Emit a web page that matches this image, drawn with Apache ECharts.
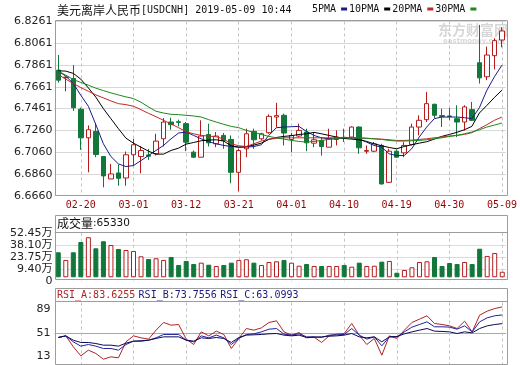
<!DOCTYPE html>
<html><head><meta charset="utf-8">
<script src="https://cdn.jsdelivr.net/npm/echarts@6/dist/echarts.min.js"></script>
<style>html,body{margin:0;padding:0;background:#fff}#c{width:520px;height:365px}</style>
</head><body><div id="c"></div>
<script>
const dates = ['02-15','02-18','02-19','02-20','02-21','02-22','02-25','02-26','02-27','02-28',
'03-01','03-04','03-05','03-06','03-07','03-08','03-11','03-12','03-13','03-14','03-15','03-18','03-19','03-20','03-21','03-22','03-25','03-26','03-27','03-28','03-29',
'04-01','04-02','04-03','04-04','04-05','04-08','04-09','04-10','04-11','04-12','04-15','04-16','04-17','04-18','04-19','04-22','04-23','04-24','04-25','04-26','04-29','04-30',
'05-01','05-02','05-03','05-06','05-07','05-08','05-09'];
const xLabelDates = ['02-20','03-01','03-12','03-21','04-01','04-10','04-19','04-30','05-09'];

const open  = [6.7814,6.7745,6.7737,6.7454,6.7192,6.7251,6.7020,6.6814,6.6869,6.6823,6.7036,6.7020,6.7035,6.7045,6.7183,6.7337,6.7340,6.7322,6.7060,6.7014,6.7223,6.7137,6.7214,6.7177,6.6875,6.7091,6.7251,6.7183,6.7239,6.7383,6.7399,6.7177,6.7208,6.7245,6.7143,6.7168,6.7106,6.7177,6.7196,6.7199,6.7291,6.7068,6.7069,6.7122,6.6783,6.7069,6.7054,6.7131,6.7291,6.7359,6.7500,6.7396,6.7393,6.7368,6.7337,6.7451,6.7882,6.7753,6.7947,6.8091];
const close = [6.7722,6.7750,6.7469,6.7192,6.7266,6.7039,6.6842,6.6860,6.6820,6.7036,6.7128,6.7075,6.7023,6.7162,6.7337,6.7313,6.7334,6.7152,6.7014,6.7208,6.7146,6.7208,6.7168,6.6875,6.7075,6.7229,6.7174,6.7229,6.7389,6.7396,6.7236,6.7214,6.7260,6.7146,6.7174,6.7112,6.7183,6.7199,6.7192,6.7291,6.7100,6.7075,6.7137,6.6768,6.7069,6.7014,6.7122,6.7291,6.7353,6.7506,6.7399,6.7389,6.7388,6.7337,6.7476,6.7353,6.7743,6.7953,6.8085,6.8174];
const low   = [6.7700,6.7620,6.7439,6.7082,6.6875,6.7014,6.6737,6.6814,6.6752,6.6752,6.6937,6.6866,6.6989,6.7029,6.7112,6.7266,6.7297,6.7069,6.7008,6.7014,6.7112,6.7106,6.7091,6.6774,6.6700,6.7014,6.7091,6.7168,6.7229,6.7291,6.7122,6.7060,6.7199,6.7069,6.7106,6.7029,6.7106,6.7122,6.7153,6.7183,6.7045,6.7045,6.7060,6.6762,6.6777,6.7008,6.7014,6.7122,6.7214,6.7337,6.7374,6.7291,6.7353,6.7199,6.7260,6.7346,6.7691,6.7722,6.7820,6.8024];
const high  = [6.7953,6.7756,6.7860,6.7470,6.7306,6.7328,6.7022,6.6952,6.6946,6.7066,6.7183,6.7116,6.7091,6.7229,6.7374,6.7377,6.7359,6.7337,6.7075,6.7353,6.7322,6.7245,6.7236,6.7214,6.7091,6.7276,6.7276,6.7239,6.7408,6.7513,6.7414,6.7236,6.7322,6.7276,6.7245,6.7199,6.7276,6.7260,6.7276,6.7297,6.7297,6.7122,6.7153,6.7137,6.7091,6.7082,6.7153,6.7322,6.7399,6.7614,6.7506,6.7460,6.7466,6.7491,6.7491,6.7522,6.8230,6.8030,6.8107,6.8208];

const ma5  = [6.7805,6.7759,6.7691,6.7583,6.7482,6.7313,6.7137,6.7020,6.6952,6.6928,6.6937,6.6983,6.7029,6.7076,6.7122,6.7183,6.7236,6.7245,6.7214,6.7183,6.7156,6.7137,6.7122,6.7112,6.7106,6.7106,6.7112,6.7128,6.7214,6.7285,6.7291,6.7294,6.7297,6.7251,6.7214,6.7192,6.7183,6.7183,6.7192,6.7192,6.7183,6.7152,6.7122,6.7106,6.7045,6.7029,6.7029,6.7091,6.7199,6.7291,6.7368,6.7383,6.7383,6.7383,6.7377,6.7368,6.7469,6.7630,6.7753,6.7860];
const ma10 = [6.7808,6.7805,6.7784,6.7731,6.7651,6.7565,6.7460,6.7368,6.7276,6.7189,6.7143,6.7106,6.7069,6.7042,6.7042,6.7076,6.7097,6.7134,6.7149,6.7165,6.7171,6.7174,6.7162,6.7119,6.7106,6.7112,6.7125,6.7143,6.7177,6.7195,6.7205,6.7211,6.7223,6.7229,6.7242,6.7229,6.7214,6.7199,6.7186,6.7180,6.7174,6.7159,6.7137,6.7119,6.7103,6.7091,6.7112,6.7128,6.7143,6.7156,6.7180,6.7205,6.7223,6.7242,6.7266,6.7297,6.7420,6.7490,6.7563,6.7630];
const ma20 = [6.7774,6.7731,6.7691,6.7654,6.7620,6.7586,6.7559,6.7531,6.7506,6.7497,6.7482,6.7451,6.7417,6.7386,6.7353,6.7319,6.7285,6.7248,6.7229,6.7214,6.7208,6.7202,6.7180,6.7137,6.7119,6.7112,6.7137,6.7162,6.7180,6.7186,6.7192,6.7192,6.7192,6.7192,6.7192,6.7192,6.7192,6.7192,6.7195,6.7195,6.7192,6.7189,6.7183,6.7180,6.7174,6.7168,6.7168,6.7171,6.7177,6.7183,6.7192,6.7199,6.7208,6.7214,6.7223,6.7239,6.7276,6.7313,6.7353,6.7383];
const ma30 = [6.7805,6.7768,6.7728,6.7701,6.7676,6.7648,6.7626,6.7605,6.7586,6.7568,6.7553,6.7519,6.7476,6.7436,6.7420,6.7408,6.7405,6.7399,6.7393,6.7383,6.7359,6.7337,6.7316,6.7297,6.7285,6.7260,6.7242,6.7223,6.7205,6.7192,6.7180,6.7168,6.7159,6.7152,6.7159,6.7168,6.7177,6.7186,6.7192,6.7192,6.7189,6.7186,6.7183,6.7177,6.7168,6.7162,6.7162,6.7165,6.7168,6.7174,6.7183,6.7192,6.7205,6.7214,6.7229,6.7245,6.7266,6.7291,6.7309,6.7328];

// volume in 万 (10k)
const volume = [29.4,20.4,29.4,41.5,47.1,34.1,42.4,38.0,33.3,32.1,30.9,24.7,21.5,22.4,20.4,23.9,14.5,19.2,15.6,17.2,14.8,13.3,14.5,17.2,20.4,21.2,17.2,14.5,18.0,18.8,20.4,17.2,13.6,15.6,13.3,13.3,13.3,13.3,14.5,12.5,17.2,13.3,13.6,18.4,19.2,5.4,8.6,11.8,18.0,18.8,23.9,13.3,16.8,15.6,18.0,15.6,33.6,25.1,28.6,6.533];

const rsiA = [46.1,48.1,34.7,23.6,30.6,26.5,19.5,22.4,21.2,40.8,48.1,45.7,44.1,55.1,64.5,61.2,62.0,44.1,37.5,53.0,48.1,53.9,49.8,32.6,44.9,57.1,55.1,57.9,64.5,66.5,53.0,49.0,52.2,45.7,46.5,40.0,48.1,50.2,51.0,63.3,49.0,37.5,44.9,24.4,48.1,44.9,55.1,64.5,68.6,72.7,63.3,62.0,60.4,57.1,66.1,53.0,73.5,78.4,81.6,83.6255];
const rsiB = [46.1,48.1,40.8,35.5,37.5,35.5,32.6,32.6,30.6,37.5,41.6,41.6,42.8,45.7,49.8,49.8,49.8,42.8,40.8,48.1,45.7,49.0,45.7,37.5,44.9,49.8,50.6,53.0,56.3,57.1,50.2,49.0,50.6,46.9,46.9,46.1,49.0,49.4,49.8,57.1,49.0,44.1,46.9,35.9,46.9,46.9,53.0,58.8,62.0,65.3,59.2,59.2,58.8,56.3,60.4,53.0,65.3,70.2,72.7,73.7556];
const rsiC = [46.1,48.1,42.8,40.0,40.0,38.7,36.7,36.7,35.5,39.2,41.6,42.0,42.8,44.9,46.9,46.9,46.9,42.8,41.6,45.7,44.9,46.1,44.9,40.0,46.1,49.0,49.4,49.8,50.6,51.0,49.0,48.1,49.0,46.1,46.5,46.9,47.7,48.1,49.0,51.0,46.9,45.7,46.9,40.8,46.9,47.3,50.6,53.0,55.1,57.1,53.9,53.5,53.0,51.0,53.0,51.8,57.1,60.4,62.0,63.0993];

const priceTicks = ['6.6660','6.6860','6.7060','6.7260','6.7461','6.7661','6.7861','6.8061','6.8261'];
const volTicks = ['0','9.40万','23.75万','38.10万','52.45万'];
const rsiTicks = ['13','51','89'];

const RED = '#b41c1c', GREEN = '#11773a';
const mono = '"DejaVu Sans Mono", monospace';
const sans = '"DejaVu Sans", "Noto Sans CJK SC", sans-serif';
const cjk = '"Noto Sans CJK SC", sans-serif';

const pMin = +priceTicks[0], pMax = +priceTicks[priceTicks.length - 1];
const pStep = (pMax - pMin) / (priceTicks.length - 1);
const vStep = parseFloat(volTicks[2]) - parseFloat(volTicks[1]);
const vMin = parseFloat(volTicks[1]) - vStep, vMax = parseFloat(volTicks[4]);
const rMin = +rsiTicks[0], rMax = +rsiTicks[2], rStep = rsiTicks[1] - rsiTicks[0];

const candle = dates.map((d, i) => [open[i], close[i], low[i], high[i]]);
const volItems = volume.map((v, i) => {
  const up = close[i] >= open[i];
  return { value: v, itemStyle: { color: up ? '#ffffff' : GREEN, borderColor: up ? RED : GREEN, borderWidth: 1 } };
});
const showLab = (i, v) => xLabelDates.indexOf(v) >= 0;

const L = 54.5, W = 451.5;
const chart = echarts.init(document.getElementById('c'), null, { renderer: 'canvas', width: 520, height: 365 });

const xAxes = [0, 1, 2].map(g => ({
  type: 'category', gridIndex: g, data: dates, boundaryGap: true,
  axisLine: { show: false }, axisTick: { show: false },
  axisLabel: { show: g === 0, interval: showLab, color: '#990000', fontFamily: mono, fontSize: 10, margin: 5 },
  splitLine: { show: true, interval: showLab, alignWithLabel: true, lineStyle: { color: '#c4c4c4', type: [3, 3], width: 1 } }
}));

const labBase = { color: '#222', fontFamily: sans, fontSize: 11 };

const option = {
  animation: false,
  backgroundColor: '#ffffff',
  grid: [
    { left: L, width: W, top: 21.5, height: 174.2 },
    { left: L, width: W, top: 232.7, height: 48.8 },
    { left: L, width: W, top: 302.5, height: 62 }
  ],
  xAxis: xAxes,
  yAxis: [
    { type: 'value', gridIndex: 0, min: pMin, max: pMax, interval: pStep, scale: true,
      axisLine: { show: false }, axisTick: { show: false },
      axisLabel: Object.assign({ margin: 2, formatter: v => priceTicks[Math.round((v - pMin) / pStep)] || '' }, labBase),
      splitLine: { lineStyle: { color: '#d8d8d8' } } },
    { type: 'value', gridIndex: 1, min: vMin, max: vMax, interval: vStep,
      axisLine: { show: false }, axisTick: { show: false },
      axisLabel: Object.assign({ margin: 2, formatter: v => { const k = Math.round((v - vMin) / vStep); return volTicks[k] || ''; } }, labBase),
      splitLine: { showMinLine: false, lineStyle: { color: '#dcdcdc' } } },
    { type: 'value', gridIndex: 2, min: rMin, max: rMax, interval: rStep,
      axisLine: { show: false }, axisTick: { show: false },
      axisLabel: Object.assign({ margin: 4,
        formatter: v => { const k = Math.round((v - rMin) / rStep); if (k === 2) return '{t|' + rsiTicks[2] + '}'; if (k === 0) return '{b|' + rsiTicks[0] + '}'; return rsiTicks[1]; },
        rich: { t: { padding: [13, 0, 0, 0], color: '#222', fontFamily: sans, fontSize: 11 }, b: { padding: [0, 0, 16, 0], color: '#222', fontFamily: sans, fontSize: 11 } } }, labBase),
      splitLine: { showMinLine: false, showMaxLine: false, lineStyle: { color: '#a8a8a8' } } }
  ],
  legend: {
    data: ['5PMA', '10PMA', '20PMA', '30PMA'], left: 312, top: 4, padding: 0, align: 'right', icon: 'rect',
    itemWidth: 6, itemHeight: 3, itemGap: 2, selectedMode: false,
    textStyle: { fontFamily: mono, fontSize: 10, color: '#111' }
  },
  series: [
    { type: 'candlestick', name: 'K', xAxisIndex: 0, yAxisIndex: 0, data: candle, barWidth: 5, z: 2,
      itemStyle: { color: '#ffffff', color0: GREEN, borderColor: RED, borderColor0: GREEN, borderWidth: 1 } },
    { type: 'line', name: '5PMA', xAxisIndex: 0, yAxisIndex: 0, data: ma5, symbol: 'none', z: 3, color: '#1a1a8c', lineStyle: { width: 1 } },
    { type: 'line', name: '10PMA', xAxisIndex: 0, yAxisIndex: 0, data: ma10, symbol: 'none', z: 3, color: '#000000', lineStyle: { width: 1 } },
    { type: 'line', name: '20PMA', xAxisIndex: 0, yAxisIndex: 0, data: ma20, symbol: 'none', z: 3, color: '#c02a2a', lineStyle: { width: 1 } },
    { type: 'line', name: '30PMA', xAxisIndex: 0, yAxisIndex: 0, data: ma30, symbol: 'none', z: 3, color: '#1c8a1c', lineStyle: { width: 1 } },
    { type: 'bar', name: 'VOL', xAxisIndex: 1, yAxisIndex: 1, data: volItems, barWidth: 5 },
    { type: 'line', name: 'RSI_A', xAxisIndex: 2, yAxisIndex: 2, data: rsiA, symbol: 'none', color: '#b02424', lineStyle: { width: 1 } },
    { type: 'line', name: 'RSI_B', xAxisIndex: 2, yAxisIndex: 2, data: rsiB, symbol: 'none', color: '#2323a0', lineStyle: { width: 1 } },
    { type: 'line', name: 'RSI_C', xAxisIndex: 2, yAxisIndex: 2, data: rsiC, symbol: 'none', color: '#0a0a55', lineStyle: { width: 1 } }
  ],
  graphic: [
    { type: 'text', x: 57, y: 10, style: { text: '{c|美元离岸人民币}{m|[USDCNH] 2019-05-09 10:44}', verticalAlign: 'middle',
      rich: { c: { fontFamily: cjk, fontSize: 12, fill: '#111' }, m: { fontFamily: mono, fontSize: 10, fill: '#111' } } } },
    { type: 'text', x: 438, y: 30, style: { text: '东方财富网', fontFamily: cjk, fontSize: 14, fontWeight: 'bold', fill: 'rgba(150,150,150,0.38)', verticalAlign: 'middle' } },
    { type: 'text', x: 443, y: 41, style: { text: 'eastmoney.com', fontFamily: sans, fontSize: 7, fontWeight: 'bold', fill: 'rgba(150,150,150,0.38)', verticalAlign: 'middle' } },
    { type: 'text', x: 57, y: 223.5, style: { text: '{c|成交量}{n|:' + Math.round(volume[volume.length - 1] * 10000) + '}', verticalAlign: 'middle',
      rich: { c: { fontFamily: cjk, fontSize: 12, fill: '#111' }, n: { fontFamily: sans, fontSize: 10.5, fill: '#111' } } } },
    { type: 'text', x: 57, y: 295, style: {
      text: '{a|RSI_A:' + rsiA[rsiA.length - 1].toFixed(4) + '} {b|RSI_B:' + rsiB[rsiB.length - 1].toFixed(4) + '} {c|RSI_C:' + rsiC[rsiC.length - 1].toFixed(4) + '}',
      verticalAlign: 'middle',
      rich: { a: { fontFamily: mono, fontSize: 10, fill: '#b02424' }, b: { fontFamily: mono, fontSize: 10, fill: '#1a1a80' }, c: { fontFamily: mono, fontSize: 10, fill: '#1a1a80' } } } },
    { type: 'rect', z: 100, shape: { x: 55.5, y: 20.5, width: 452, height: 175 }, style: { fill: 'none', stroke: '#9c9c9c', lineWidth: 1 } },
    { type: 'rect', z: 100, shape: { x: 55.5, y: 215.5, width: 452, height: 64 }, style: { fill: 'none', stroke: '#9c9c9c', lineWidth: 1 } },
    { type: 'line', z: 100, shape: { x1: 55.5, y1: 232.5, x2: 507.5, y2: 232.5 }, style: { stroke: '#9c9c9c', lineWidth: 1 } },
    { type: 'rect', z: 100, shape: { x: 55.5, y: 288.5, width: 452, height: 76 }, style: { fill: 'none', stroke: '#9c9c9c', lineWidth: 1 } },
    { type: 'line', z: 100, shape: { x1: 55.5, y1: 301.5, x2: 507.5, y2: 301.5 }, style: { stroke: '#9c9c9c', lineWidth: 1 } }
  ]
};
chart.setOption(option);
</script>
</body></html>
